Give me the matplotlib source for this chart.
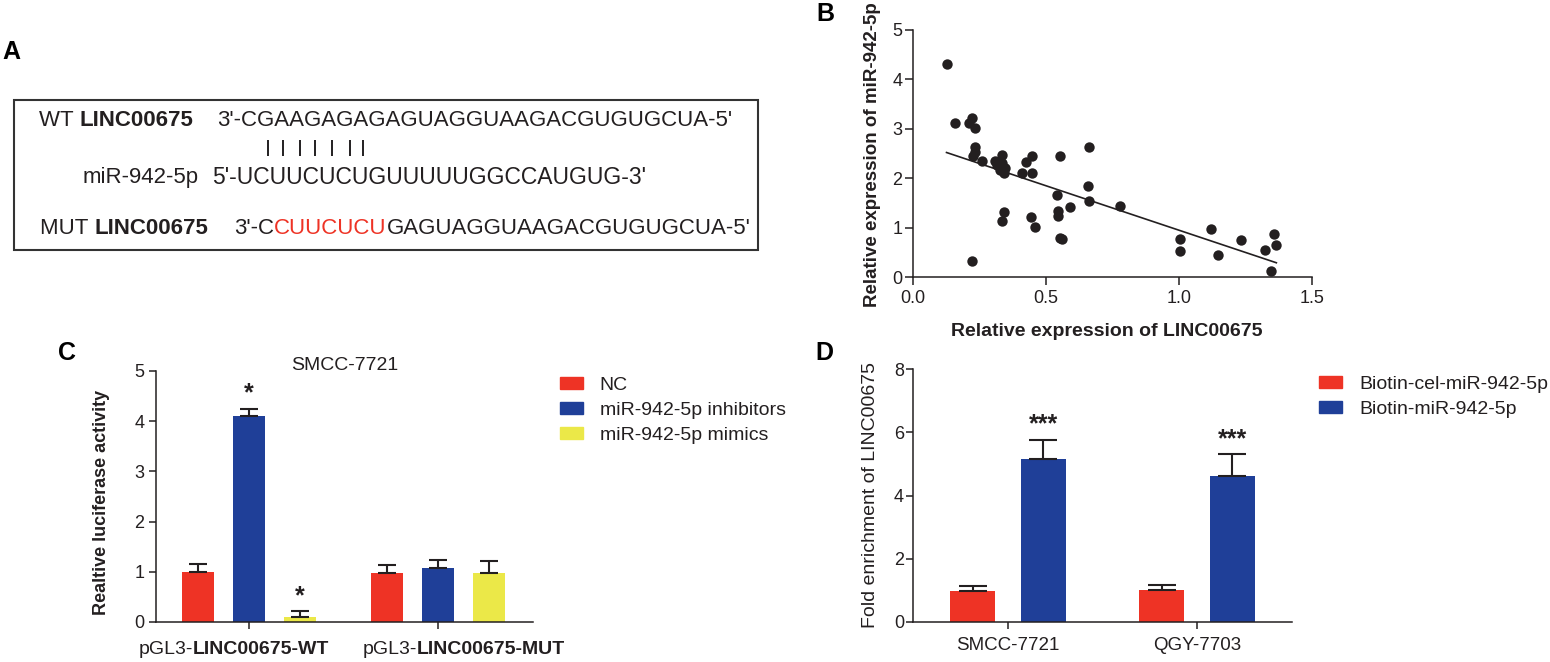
import matplotlib
matplotlib.use('Agg')
import matplotlib.pyplot as plt
from matplotlib.patches import Rectangle, Patch
from matplotlib.offsetbox import TextArea, HPacker, AnnotationBbox

plt.rcParams['font.family'] = ['Liberation Sans', 'DejaVu Sans']

W, H = 1550, 662
TXT = '#231F20'
RED = '#EE3325'
BLUE = '#1F3F98'
YELLOW = '#EBE848'

# ---------------- data ----------------
# Panel A sequences
wt_label = ("WT ", "LINC00675")
wt_seq = "3'-CGAAGAGAGAGUAGGUAAGACGUGUGCUA-5'"
mir_label = "miR-942-5p"
mir_seq = "5'-UCUUCUCUGUUUUUGGCCAUGUG-3'"
mut_label = ("MUT ", "LINC00675")
mut_seq_parts = ["3'-C", "CUUCUCU", "GAGUAGGUAAGACGUGUGCUA-5'"]

# Panel B scatter
lnc_expr = [0.126, 0.157, 0.223, 0.211, 0.232, 0.232, 0.232, 0.226, 0.261, 0.308,
            0.333, 0.333, 0.326, 0.341, 0.345, 0.314, 0.423, 0.446, 0.408, 0.446,
            0.552, 0.663, 0.659, 0.663, 0.542, 0.546, 0.544, 0.590, 0.778, 0.341,
            0.335, 0.442, 0.458, 0.552, 0.562, 0.223, 1.002, 1.002, 1.120, 1.148,
            1.234, 1.322, 1.356, 1.366, 1.346]
mir_expr = [4.31, 3.11, 3.21, 3.11, 3.01, 2.64, 2.54, 2.44, 2.34, 2.34,
            2.47, 2.30, 2.17, 2.10, 2.20, 2.27, 2.33, 2.44, 2.10, 2.10,
            2.44, 2.64, 1.85, 1.54, 1.66, 1.33, 1.23, 1.42, 1.43, 1.31,
            1.13, 1.21, 1.01, 0.79, 0.77, 0.32, 0.77, 0.52, 0.98, 0.44,
            0.75, 0.54, 0.87, 0.64, 0.12]
fit_slope = -1.80
fit_intercept = 2.747
b_stats = "P<0.001, R square = 0.5326"

# Panel C luciferase
c_groups_prefix = ["pGL3-", "pGL3-"]
c_groups_bold = ["LINC00675-WT", "LINC00675-MUT"]
c_series = ["NC", "miR-942-5p inhibitors", "miR-942-5p mimics"]
c_nc = [0.99, 0.97]
c_nc_err = [0.165, 0.17]
c_inh = [4.10, 1.07]
c_inh_err = [0.15, 0.17]
c_mim = [0.10, 0.97]
c_mim_err = [0.11, 0.25]
c_inh_sig = ["*", ""]
c_mim_sig = ["*", ""]
c_title = "SMCC-7721"

# Panel D RNA pull-down
d_groups = ["SMCC-7721", "QGY-7703"]
d_series = ["Biotin-cel-miR-942-5p", "Biotin-miR-942-5p"]
d_ctrl = [0.98, 1.00]
d_ctrl_err = [0.15, 0.18]
d_bio = [5.16, 4.63]
d_bio_err = [0.60, 0.68]
d_bio_sig = ["***", "***"]

# ---------------- figure ----------------
fig = plt.figure(figsize=(W / 100, H / 100), dpi=100)

# overlay axes in pixel coordinates for panel A and free texts
ov = fig.add_axes([0, 0, 1, 1])
ov.set_xlim(0, W)
ov.set_ylim(H, 0)
ov.axis('off')
ov.patch.set_alpha(0)


def run(x, y, parts, fs):
    t = ov.text(x, y, parts[0][0], fontsize=fs, fontweight=parts[0][1],
                color=parts[0][2], ha='left', va='center')
    for s, w, c in parts[1:]:
        t = ov.annotate(s, xy=(1, 0), xycoords=t, ha='left', va='bottom',
                        fontsize=fs, fontweight=w, color=c)
    return t


FA = 16
ov.add_patch(Rectangle((14, 100), 744, 150, fill=False, lw=1.5, ec='#333333'))
run(39, 120, [(wt_label[0], 'normal', TXT), (wt_label[1], 'bold', TXT)], FA)
run(217, 120, [(wt_seq, 'normal', TXT)], FA)
ov.vlines([268, 283, 300, 315, 332, 350, 363], 140, 156, color=TXT, lw=1.4)
run(83, 178, [(mir_label, 'normal', TXT)], FA)
run(212, 178, [(mir_seq, 'normal', TXT)], 16.5)
run(40, 228, [(mut_label[0], 'normal', TXT), (mut_label[1], 'bold', TXT)], FA)
run(234, 228, [(mut_seq_parts[0], 'normal', TXT), (mut_seq_parts[1], 'normal', RED),
               (mut_seq_parts[2], 'normal', TXT)], FA)

# panel letters
for letter, (x, y) in zip("ABCD", [(11, 52), (825, 14), (67, 353), (824, 353)]):
    ov.text(x, y, letter, fontsize=18, fontweight='bold', ha='center', va='center', color='black')


def style(ax, tick_len=5, pad=3):
    for s in ['top', 'right']:
        ax.spines[s].set_visible(False)
    for s in ['left', 'bottom']:
        ax.spines[s].set_linewidth(1.1)
        ax.spines[s].set_color(TXT)
    ax.tick_params(direction='out', length=tick_len, width=1.1, colors=TXT,
                   labelsize=13, pad=pad)


# ---------------- Panel B ----------------
axB = fig.add_axes([913 / W, 1 - 277 / H, 399 / W, 247 / H])
axB.scatter(lnc_expr, mir_expr, s=56, color=TXT, zorder=3, linewidths=0)
x0, x1 = min(lnc_expr), max(lnc_expr)
axB.plot([x0, x1], [fit_intercept + fit_slope * x0, fit_intercept + fit_slope * x1],
         color=TXT, lw=1.2, zorder=2)
axB.set_xlim(0, 1.5)
axB.set_ylim(0, 5)
axB.set_xticks([0, 0.5, 1.0, 1.5])
axB.set_xticklabels(["0.0", "0.5", "1.0", "1.5"])
axB.set_yticks([0, 1, 2, 3, 4, 5])
style(axB, tick_len=5.5, pad=2)
axB.tick_params(axis='x', pad=4)
axB.set_xlabel("Relative expression of LINC00675", fontsize=14, fontweight='bold', color=TXT)
axB.set_ylabel("Relative expression of miR-942-5p", fontsize=13.5, fontweight='bold', color=TXT)
axB.xaxis.set_label_coords((1107 - 913) / 399, (277 - 331) / 247)
axB.xaxis.label.set_va('center')
axB.yaxis.set_label_coords((873 - 913) / 399, (277 - 155) / 247)
axB.yaxis.label.set_va('center')
ov.text(1142, 67, b_stats, fontsize=14, ha='center', va='center', color=TXT)

# ---------------- Panel C ----------------
axC = fig.add_axes([156 / W, 1 - 622 / H, 377 / W, 251 / H])
xs = [0, 1]
offs = [-0.27, 0.0, 0.27]
bw = 0.165
c_vals = [c_nc, c_inh, c_mim]
c_errs = [c_nc_err, c_inh_err, c_mim_err]
c_cols = [RED, BLUE, YELLOW]
c_sigs = [["", ""], c_inh_sig, c_mim_sig]
handles = []
for vals, errs, col, off, sigs in zip(c_vals, c_errs, c_cols, offs, c_sigs):
    pos = [x + off for x in xs]
    axC.bar(pos, vals, width=bw, color=col, zorder=2)
    axC.errorbar(pos, vals, yerr=[[0] * len(errs), errs], fmt='none', ecolor=TXT,
                 elinewidth=1.5, capsize=6.5, capthick=1.5, zorder=3)
    for p, v, e, s in zip(pos, vals, errs, sigs):
        if s:
            axC.text(p, v + e + 0.3, s, fontsize=18, fontweight='bold', ha='center',
                     va='center', color=TXT)
    handles.append(Patch(color=col))
axC.set_xlim(-0.492, 1.503)
axC.set_ylim(0, 5)
axC.set_yticks([0, 1, 2, 3, 4, 5])
axC.set_xticks(xs)
axC.set_xticklabels([])
style(axC, tick_len=5, pad=3.5)
axC.set_ylabel("Realtive luciferase activity", fontsize=13, fontweight='bold', color=TXT)
axC.yaxis.set_label_coords((102 - 156) / 377, (622 - 502) / 251)
axC.yaxis.label.set_va('center')
label_shift_px = [-15, 26]   # label centres sit slightly off the ticks in the source
for x, pre, bold, sh in zip(xs, c_groups_prefix, c_groups_bold, label_shift_px):
    box = HPacker(children=[TextArea(pre, textprops=dict(fontsize=14, color=TXT)),
                            TextArea(bold, textprops=dict(fontsize=14, color=TXT, fontweight='bold'))],
                  align='baseline', pad=0, sep=0)
    ab = AnnotationBbox(box, (x, 0), xycoords=('data', 'axes fraction'),
                        xybox=(sh * 0.72, -(650 - 622) * 0.72), boxcoords='offset points',
                        box_alignment=(0.5, 0.5), frameon=False)
    axC.add_artist(ab)
ov.text(345, 365, c_title, fontsize=14, ha='center', va='center', color=TXT)
fig.legend(handles, c_series, loc='upper left', bbox_to_anchor=(560 / W, 1 - 377 / H),
           frameon=False, fontsize=14, handlelength=1.2, handleheight=0.57,
           handletextpad=0.85, labelspacing=0.4, borderpad=0, borderaxespad=0,
           labelcolor=TXT)

# ---------------- Panel D ----------------
axD = fig.add_axes([913 / W, 1 - 622 / H, 379 / W, 253 / H])
doffs = [-0.186, 0.186]
dbw = 0.238
d_vals = [d_ctrl, d_bio]
d_errs = [d_ctrl_err, d_bio_err]
d_cols = [RED, BLUE]
d_sigs = [["", ""], d_bio_sig]
dh = []
for vals, errs, col, off, sigs in zip(d_vals, d_errs, d_cols, doffs, d_sigs):
    pos = [x + off for x in xs]
    axD.bar(pos, vals, width=dbw, color=col, zorder=2)
    axD.errorbar(pos, vals, yerr=[[0] * len(errs), errs], fmt='none', ecolor=TXT,
                 elinewidth=1.5, capsize=10, capthick=1.5, zorder=3)
    for p, v, e, s in zip(pos, vals, errs, sigs):
        if s:
            axD.text(p, v + e + 0.48, s, fontsize=18, fontweight='bold', ha='center',
                     va='center', color=TXT)
    dh.append(Patch(color=col))
axD.set_xlim(-0.503, 1.503)
axD.set_ylim(0, 8)
axD.set_yticks([0, 2, 4, 6, 8])
axD.set_xticks(xs)
axD.set_xticklabels(d_groups)
style(axD, tick_len=5, pad=1.5)
axD.tick_params(axis='x', labelsize=13.5, pad=6)
axD.set_ylabel("Fold enrichment of LINC00675", fontsize=14, color=TXT)
axD.yaxis.set_label_coords((871 - 913) / 379, (622 - 495) / 253)
axD.yaxis.label.set_va('center')
fig.legend(dh, d_series, loc='upper left', bbox_to_anchor=(1319 / W, 1 - 376 / H),
           frameon=False, fontsize=14, handlelength=1.2, handleheight=0.57,
           handletextpad=0.9, labelspacing=0.4, borderpad=0, borderaxespad=0,
           labelcolor=TXT)

fig.savefig('out.png', dpi=100)
